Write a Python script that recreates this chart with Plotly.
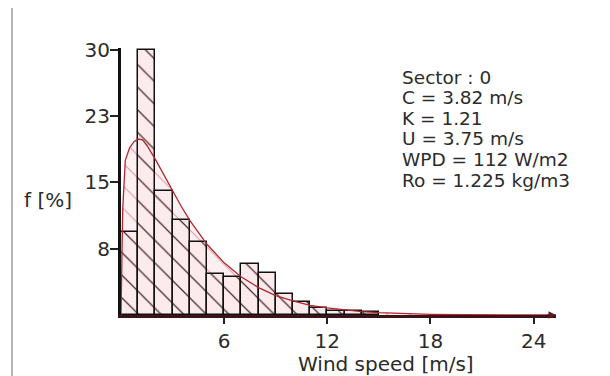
import plotly.graph_objects as go

# ---- data ----
bin_left = [0, 1, 2, 3, 4, 5, 6, 7, 8, 9, 10, 11, 12, 13, 14]
freq_pct = [9.4, 30.0, 14.0, 10.8, 8.3, 4.6, 4.3, 5.8, 4.8, 2.4, 1.5, 0.8, 0.5, 0.4, 0.3]

curve_x = [0, 0.1, 0.25, 0.5, 0.75, 1.0, 1.25, 1.5, 2, 2.5, 3, 3.5, 4, 5, 6, 7, 8,
           9, 10, 11, 12, 13, 14, 15, 16, 18, 20, 22, 25.3]
curve_y = [0, 12.0, 17.5, 18.9, 19.6, 19.9, 19.8, 19.2, 17.6, 15.8, 14.0, 12.3, 10.7,
           8.0, 5.9, 4.3, 3.1, 2.2, 1.6, 1.1, 0.8, 0.55, 0.38, 0.26, 0.18, 0.08, 0.04,
           0.02, 0]

y_tickvals = [7.5, 15, 22.5, 30]
y_ticktext = ["8", "15", "23", "30"]
x_tickvals = [6, 12, 18, 24]
x_ticktext = ["6", "12", "18", "24"]

info_lines = ["Sector : 0", "C = 3.82 m/s", "K = 1.21", "U = 3.75 m/s",
              "WPD = 112 W/m2", "Ro = 1.225 kg/m3"]

FONT = "DejaVu Sans"
TXT = "#2b2b2b"
RED = "#b3262f"
X_RANGE = [0, 25.3]
Y_RANGE = [0, 30.2]

# ---- layout geometry (pixels) ----
W, H = 610, 376
L, R, T, B = 121, 54, 48, 61
PW, PH = W - L - R, H - T - B

def px_x(p):
    return (p - L) / PW

def px_y(p):
    return (H - B - p) / PH

fig = go.Figure()

# hatched fill under the Weibull curve (bottom subplot layer)
fig.add_trace(go.Scatter(
    x=curve_x, y=curve_y, mode="lines", fill="tozeroy",
    fillcolor="rgba(250,225,229,0.6)",
    fillpattern=dict(shape="\\", fgcolor="rgba(190,80,95,0.55)",
                     bgcolor="rgba(252,234,237,0.75)", size=16, solidity=0.07,
                     fillmode="replace"),
    line=dict(width=0), hoverinfo="skip", showlegend=False,
    xaxis="x", yaxis="y"))

# hatched histogram bars (overlay layer, drawn above the fill)
fig.add_trace(go.Bar(
    x=[b + 0.5 for b in bin_left], y=freq_pct, width=1.0,
    marker=dict(
        color="#fcebed",
        line=dict(color="#111111", width=1.5),
        pattern=dict(shape="\\", fgcolor="#4a2a2e", bgcolor="#fcebed",
                     size=16, solidity=0.08, fillmode="replace")),
    showlegend=False, xaxis="x2", yaxis="y2"))

# Weibull curve
fig.add_trace(go.Scatter(
    x=curve_x, y=curve_y, mode="lines", line=dict(color=RED, width=1.3),
    showlegend=False, xaxis="x2", yaxis="y2"))

annotations = []
for i, line in enumerate(info_lines):
    annotations.append(dict(
        text=line, xref="paper", yref="paper", x=px_x(400), y=px_y(77 + i * 20.6),
        xanchor="left", yanchor="middle", showarrow=False,
        font=dict(family=FONT, size=18.5, color=TXT)))

annotations.append(dict(
    text="f [%]", xref="paper", yref="paper", x=px_x(48), y=px_y(200),
    xanchor="center", yanchor="middle", showarrow=False,
    font=dict(family=FONT, size=20, color=TXT)))

annotations.append(dict(
    text="Wind speed [m/s]", xref="paper", yref="paper", x=px_x(386), y=px_y(364),
    xanchor="center", yanchor="middle", showarrow=False,
    font=dict(family=FONT, size=20, color=TXT)))

# arrow head at the end of the x axis
annotations.append(dict(
    x=25.3, y=0, ax=24.7, ay=0, xref="x", yref="y", axref="x", ayref="y",
    text="", showarrow=True, arrowhead=2, arrowsize=1, arrowwidth=1.5,
    arrowcolor="#5a1a1e"))

fig.update_layout(
    width=W, height=H,
    margin=dict(l=L, r=R, t=T, b=B),
    paper_bgcolor="white", plot_bgcolor="white",
    bargap=0,
    annotations=annotations,
    shapes=[dict(type="line", xref="paper", yref="paper",
                 x0=px_x(12), x1=px_x(12), y0=px_y(H), y1=px_y(8),
                 line=dict(color="#b5b5b5", width=2))],
    xaxis=dict(range=X_RANGE, showgrid=False, zeroline=False,
               showline=True, linecolor="#3a1418", linewidth=3,
               ticks="outside", ticklen=6, tickwidth=1.5, tickcolor="#222",
               tickvals=x_tickvals, ticktext=x_ticktext,
               ticklabelstandoff=0,
               tickfont=dict(family=FONT, size=20, color=TXT)),
    yaxis=dict(range=Y_RANGE, showgrid=False, zeroline=False,
               showline=True, linecolor="#111", linewidth=3,
               ticks="outside", ticklen=8, tickwidth=1.5, tickcolor="#222",
               tickvals=y_tickvals, ticktext=y_ticktext,
               ticklabelstandoff=-4,
               tickfont=dict(family=FONT, size=20, color=TXT)),
    xaxis2=dict(range=X_RANGE, overlaying="x", visible=False),
    yaxis2=dict(range=Y_RANGE, overlaying="y", visible=False),
)

fig.write_html("out.html")
